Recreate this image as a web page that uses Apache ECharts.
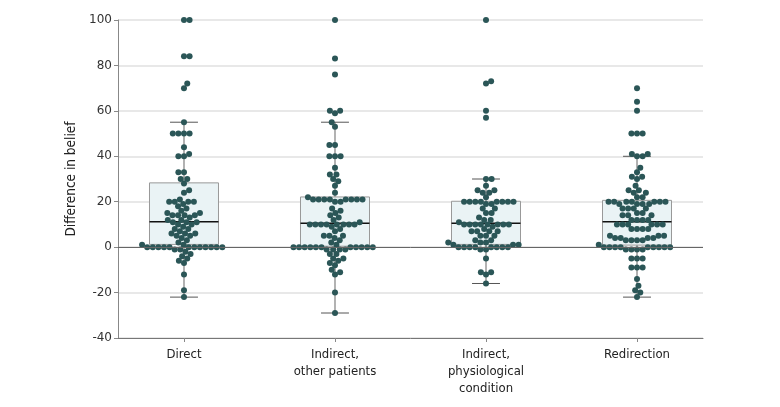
<!DOCTYPE html>
<html><head><meta charset="utf-8">
<script src="https://cdn.jsdelivr.net/npm/echarts@6/dist/echarts.min.js"></script>
<style>html,body{margin:0;padding:0;background:#fff}#c{width:780px;height:407px}</style>
</head><body><div id="c"></div>
<script>
const categories = ['Direct', 'Indirect,\nother patients', 'Indirect,\nphysiological\ncondition', 'Redirection'];
const direct = [100,100,84,84,72,70,55,50,50,50,50,44,41,40,40,33,33,30,30,28,25,24,21,20,20,20,20,19,18,17,16,15,15,14,14,14,14,13,12,12,11,11,11,10,10,9,8,8,7,6,6,6,5,5,4,3,2,1,1,0,0,0,0,0,0,0,0,0,0,0,0,-1,-1,-2,-3,-4,-5,-6,-7,-12,-19,-22];
const indirectOther = [100,83,76,60,60,59,55,53,45,45,40,40,40,35,32,32,30,29,27,24,22,21,21,21,21,21,21,21,21,20,20,17,16,15,14,13,12,11,10,10,10,10,10,10,10,10,9,8,7,5,5,5,4,3,2,1,0,0,0,0,0,0,0,0,0,0,0,-1,-1,-1,-1,-3,-3,-5,-5,-6,-7,-8,-10,-11,-12,-20,-29];
const indirectPhys = [100,73,72,60,57,30,30,27,25,25,24,24,22,20,20,20,20,20,20,20,20,19,19,17,17,15,15,13,12,12,11,10,10,10,10,10,10,10,10,9,8,7,7,7,7,5,5,5,3,3,2,2,2,1,1,1,0,0,0,0,0,0,0,0,-1,-1,-5,-11,-11,-12,-16];
const redirection = [70,64,60,50,50,50,41,41,40,40,35,33,31,31,30,27,25,25,24,24,22,22,20,20,20,20,20,20,20,19,19,19,19,17,17,17,17,15,15,14,14,14,12,12,12,12,10,10,10,10,10,10,8,8,8,8,5,5,5,4,4,4,4,3,3,3,3,1,0,0,0,0,0,0,0,0,0,-1,-1,-1,-1,-5,-5,-5,-9,-9,-9,-14,-17,-19,-20,-22];
const groups = [direct, indirectOther, indirectPhys, redirection];
const whiskerLow = [-22, -29, -16, -22];
const q1 = [1.2, 0.4, 1.2, 0.9];
const median = [11.2, 10.5, 10.5, 11.2];
const q3 = [28.3, 22.1, 20.2, 20.6];
const whiskerHigh = [55, 55, 30, 40];
const yMin = -40, yMax = 100, yStep = 20;

const DOT = '#2b5657';
const chart = echarts.init(document.getElementById('c'), null, {renderer: 'canvas'});
const boxData = categories.map((c, i) => [i + 1, whiskerLow[i], q1[i], median[i], q3[i], whiskerHigh[i]]);

const option = {
  animation: false,
  grid: {left: 118, top: 20, right: 77, bottom: 69},
  xAxis: {
    type: 'value', min: 0.563, max: 4.437,
    splitLine: {show: false},
    axisLine: {show: true, onZero: false, lineStyle: {color: '#777', width: 1}},
    axisTick: {show: true, customValues: [1, 2, 3, 4], length: 4, lineStyle: {color: '#888'}},
    axisLabel: {customValues: [1, 2, 3, 4], formatter: v => categories[Math.round(v) - 1] || '',
      fontFamily: 'Liberation Sans Narrow, DejaVu Sans Condensed, sans-serif', fontSize: 13, color: '#222', lineHeight: 17, margin: 8}
  },
  yAxis: {
    type: 'value', min: yMin, max: yMax, interval: yStep,
    name: 'Difference in belief', nameLocation: 'middle', nameGap: 31,
    nameTextStyle: {fontFamily: 'Liberation Sans Narrow, DejaVu Sans Condensed, sans-serif', fontSize: 13.5, color: '#222'},
    axisLine: {show: true, lineStyle: {color: '#888'}},
    axisTick: {show: true, length: 4, lineStyle: {color: '#888'}},
    splitLine: {show: true, lineStyle: {color: '#e0e0e0', width: 1.5}},
    axisLabel: {fontFamily: 'DejaVu Sans, sans-serif', fontSize: 12, color: '#333', margin: 6}
  },
  series: [{
    type: 'custom', z: 2,
    data: boxData,
    renderItem: function (params, api) {
      const x = api.value(0);
      const lo = api.coord([x, api.value(1)]);
      const b1 = api.coord([x, api.value(2)]);
      const md = api.coord([x, api.value(3)]);
      const b3 = api.coord([x, api.value(4)]);
      const hi = api.coord([x, api.value(5)]);
      const bw = api.size([0.457, 0])[0];
      const cw = api.size([0.185, 0])[0];
      const cx = lo[0];
      return {type: 'group', children: [
        {type: 'line', shape: {x1: cx, y1: b1[1], x2: cx, y2: lo[1]}, style: {stroke: '#999', lineWidth: 1.5}},
        {type: 'line', shape: {x1: cx, y1: b3[1], x2: cx, y2: hi[1]}, style: {stroke: '#999', lineWidth: 1.5}},
        {type: 'line', shape: {x1: cx - cw / 2, y1: lo[1], x2: cx + cw / 2, y2: lo[1]}, style: {stroke: '#555', lineWidth: 1}},
        {type: 'line', shape: {x1: cx - cw / 2, y1: hi[1], x2: cx + cw / 2, y2: hi[1]}, style: {stroke: '#555', lineWidth: 1}},
        {type: 'rect', shape: {x: cx - bw / 2, y: b3[1], width: bw, height: b1[1] - b3[1]}, style: {fill: '#eaf3f5', stroke: '#999', lineWidth: 1}},
        {type: 'line', shape: {x1: cx - bw / 2, y1: md[1], x2: cx + bw / 2, y2: md[1]}, style: {stroke: '#111', lineWidth: 1.5}}
      ]};
    },
    markLine: {silent: true, symbol: 'none', label: {show: false}, lineStyle: {color: '#666', width: 1, type: 'solid'}, data: [{yAxis: 0}]}
  }, {
    type: 'scatter', z: 3, symbolSize: 6, itemStyle: {color: DOT, opacity: 1}, data: []
  }]
};
chart.setOption(option);

// beeswarm placement computed in pixel space
const D = 5.6;
const p0 = chart.convertToPixel({gridIndex: 0}, [1, 0]);
const p1 = chart.convertToPixel({gridIndex: 0}, [2, 10]);
const pxPerX = p1[0] - p0[0];
const pxPerY = (p0[1] - p1[1]) / 10;
const scatterData = [];
groups.forEach((vals, gi) => {
  const pts = vals.slice().sort((a, b) => a - b).map(v => ({v, py: -v * pxPerY}));
  const placed = [];
  let flip = 1;
  pts.forEach(p => {
    let cands = [0];
    placed.forEach(q => {
      const dy = Math.abs(p.py - q.py);
      if (dy < D) {
        const dx = Math.sqrt(D * D - dy * dy);
        cands.push(q.px + dx, q.px - dx);
      }
    });
    cands.sort((a, b) => Math.abs(a) - Math.abs(b) || (a - b) * flip);
    flip = -flip;
    let chosen = 0;
    for (const c of cands) {
      let ok = true;
      for (const q of placed) {
        const dx = c - q.px, dy = p.py - q.py;
        if (dx * dx + dy * dy < D * D - 1e-6) { ok = false; break; }
      }
      if (ok) { chosen = c; break; }
    }
    p.px = chosen;
    placed.push(p);
    scatterData.push([gi + 1 + chosen / pxPerX, p.v]);
  });
});
chart.setOption({series: [{}, {data: scatterData}]});
</script></body></html>
